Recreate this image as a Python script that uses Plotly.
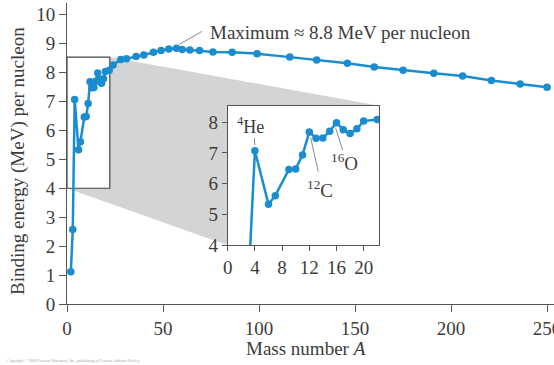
import plotly.graph_objects as go

# ---------------- data ----------------
mass_number = [2, 3, 4, 6, 7, 9, 10, 11, 12, 13, 14, 15, 16, 17, 18, 19, 20, 22,
               24, 28, 31, 36, 40, 45, 49, 53, 57, 60, 64, 69, 76, 86, 99, 116,
               130, 146, 160, 175, 191, 206, 221, 236, 250]
binding_energy = [1.11, 2.57, 7.07, 5.33, 5.61, 6.46, 6.48, 6.93, 7.68, 7.47, 7.48,
                  7.70, 7.98, 7.75, 7.63, 7.78, 8.03, 8.08,
                  8.26, 8.45, 8.47, 8.55, 8.60, 8.70, 8.76, 8.81, 8.84, 8.79, 8.78,
                  8.76, 8.71, 8.70, 8.65, 8.53, 8.43, 8.32, 8.19, 8.08, 7.97, 7.88,
                  7.72, 7.60, 7.49]

main_xticks = [0, 50, 100, 150, 200, 250]
main_yticks = [0, 1, 2, 3, 4, 5, 6, 7, 8, 9, 10]
inset_xticks = [0, 4, 8, 12, 16, 20]
inset_yticks = [4, 5, 6, 7, 8]

x_title = "Mass number <i>A</i>"
y_title = "Binding energy (MeV) per nucleon"
max_label = "Maximum \u2248 8.8 MeV per nucleon"

# ---------------- style / layout constants ----------------
BLUE = "#1a8dd0"
AXIS = "#555555"
TEXT = "#3c3c3c"
GRAY_FILL = "#d3d4d6"
LEADER = "#8a8a8a"
FONT = "Liberation Serif, Times New Roman, serif"

main_xrange = [0, 253.6]
main_yrange = [0, 10.4]
inset_xrange = [0, 22.3]
inset_yrange = [4, 8.53]
inset_dom_x = [0.330, 0.6413]
inset_dom_y = [0.195, 0.6588]

fig = go.Figure()

marker = dict(color=BLUE, size=7.5)
line = dict(color=BLUE, width=2.5)

fig.add_trace(go.Scatter(x=mass_number, y=binding_energy, mode="lines+markers",
                         line=line, marker=marker, xaxis="x", yaxis="y",
                         showlegend=False, hoverinfo="x+y"))
fig.add_trace(go.Scatter(x=mass_number, y=binding_energy, mode="lines+markers",
                         line=line, marker=marker, xaxis="x2", yaxis="y2",
                         showlegend=False, hoverinfo="x+y"))

# paper coordinates of the zoom box in the main axes
def px(a):
    return (a - main_xrange[0]) / (main_xrange[1] - main_xrange[0])

def py(v):
    return (v - main_yrange[0]) / (main_yrange[1] - main_yrange[0])

box_l, box_r = px(inset_xrange[0]), px(inset_xrange[1])
box_b, box_t = py(inset_yrange[0]), py(inset_yrange[1])

shapes = []
# gray connector between the box and the inset
shapes.append(dict(type="path", xref="paper", yref="paper", layer="below",
                   path=(f"M {box_r},{box_t} L {inset_dom_x[1]},{inset_dom_y[1]} "
                         f"L {inset_dom_x[0]},{inset_dom_y[0]} L {box_l},{box_b} Z"),
                   fillcolor=GRAY_FILL, line=dict(width=0)))
# white inset background
shapes.append(dict(type="rect", xref="paper", yref="paper", layer="below",
                   x0=inset_dom_x[0], x1=inset_dom_x[1], y0=inset_dom_y[0], y1=inset_dom_y[1],
                   fillcolor="white", line=dict(width=0)))
# zoom box in the main plot
shapes.append(dict(type="rect", xref="x", yref="y", layer="below",
                   x0=inset_xrange[0], x1=inset_xrange[1], y0=inset_yrange[0], y1=inset_yrange[1],
                   fillcolor="white", line=dict(color="#444444", width=1.2)))
# leader for maximum label
shapes.append(dict(type="line", xref="x", yref="y", x0=58.5, y0=8.97, x1=70.3, y1=9.42,
                   line=dict(color=LEADER, width=1)))
# inset leaders
shapes.append(dict(type="line", xref="x2", yref="y2", x0=3.91, y0=7.49, x1=4.0, y1=7.25,
                   line=dict(color=LEADER, width=1)))
shapes.append(dict(type="line", xref="x2", yref="y2", x0=12.2, y0=7.5, x1=13.32, y1=6.39,
                   line=dict(color=LEADER, width=1)))
shapes.append(dict(type="line", xref="x2", yref="y2", x0=15.88, y0=7.8, x1=16.91, y1=7.09,
                   line=dict(color=LEADER, width=1)))

annotations = [
    dict(text=max_label, x=73.4, y=9.39, xref="x", yref="y", xanchor="left",
         yanchor="middle", showarrow=False, font=dict(size=19, color=TEXT, family=FONT)),
    dict(text="<sup>4</sup>He", x=3.4, y=7.90, xref="x2", yref="y2", xanchor="center",
         yanchor="middle", showarrow=False, font=dict(size=18, color=TEXT, family=FONT)),
    dict(text="<sup>12</sup>C", x=13.57, y=5.83, xref="x2", yref="y2", xanchor="center",
         yanchor="middle", showarrow=False, font=dict(size=19, color=TEXT, family=FONT)),
    dict(text="<sup>16</sup>O", x=17.25, y=6.70, xref="x2", yref="y2", xanchor="center",
         yanchor="middle", showarrow=False, font=dict(size=19, color=TEXT, family=FONT)),
    dict(text=x_title, x=0.491, y=-0.1495, xref="paper", yref="paper", xanchor="center",
         yanchor="middle", showarrow=False, font=dict(size=19, color=TEXT, family=FONT)),
    dict(text=y_title, x=-0.1006, y=0.475, xref="paper", yref="paper", xanchor="center",
         yanchor="middle", textangle=-90, showarrow=False,
         font=dict(size=19, color=TEXT, family=FONT)),
    dict(text="Copyright \u00a9 2008 Pearson Education, Inc., publishing as Pearson Addison-Wesley.",
         x=-0.127, y=-0.189, xref="paper", yref="paper", xanchor="left", yanchor="middle",
         showarrow=False, font=dict(size=4, color="#aaaaaa", family=FONT)),
]

axis_common = dict(showgrid=False, zeroline=False, showline=True, linecolor=AXIS,
                   linewidth=1, ticks="outside", tickcolor=AXIS, automargin=False,
                   tickfont=dict(size=19, color=TEXT, family=FONT))

fig.update_layout(
    width=554, height=365,
    margin=dict(l=67, r=0, t=3, b=61, autoexpand=False),
    paper_bgcolor="white", plot_bgcolor="white",
    showlegend=False,
    xaxis=dict(range=main_xrange, tickvals=main_xticks, ticklen=7,
               ticklabeloverflow="allow", **axis_common),
    yaxis=dict(range=main_yrange, tickvals=main_yticks, ticklen=7, **axis_common),
    xaxis2=dict(domain=inset_dom_x, anchor="y2", range=inset_xrange, tickvals=inset_xticks,
                ticklen=5, mirror=True, **axis_common),
    yaxis2=dict(domain=inset_dom_y, anchor="x2", range=inset_yrange, tickvals=inset_yticks,
                ticklen=5, mirror=True, **axis_common),
    shapes=shapes,
    annotations=annotations,
)

fig.write_html("out.html", config={"displayModeBar": False},
               post_script="document.body.style.margin='0px';document.body.style.overflow='hidden';")
